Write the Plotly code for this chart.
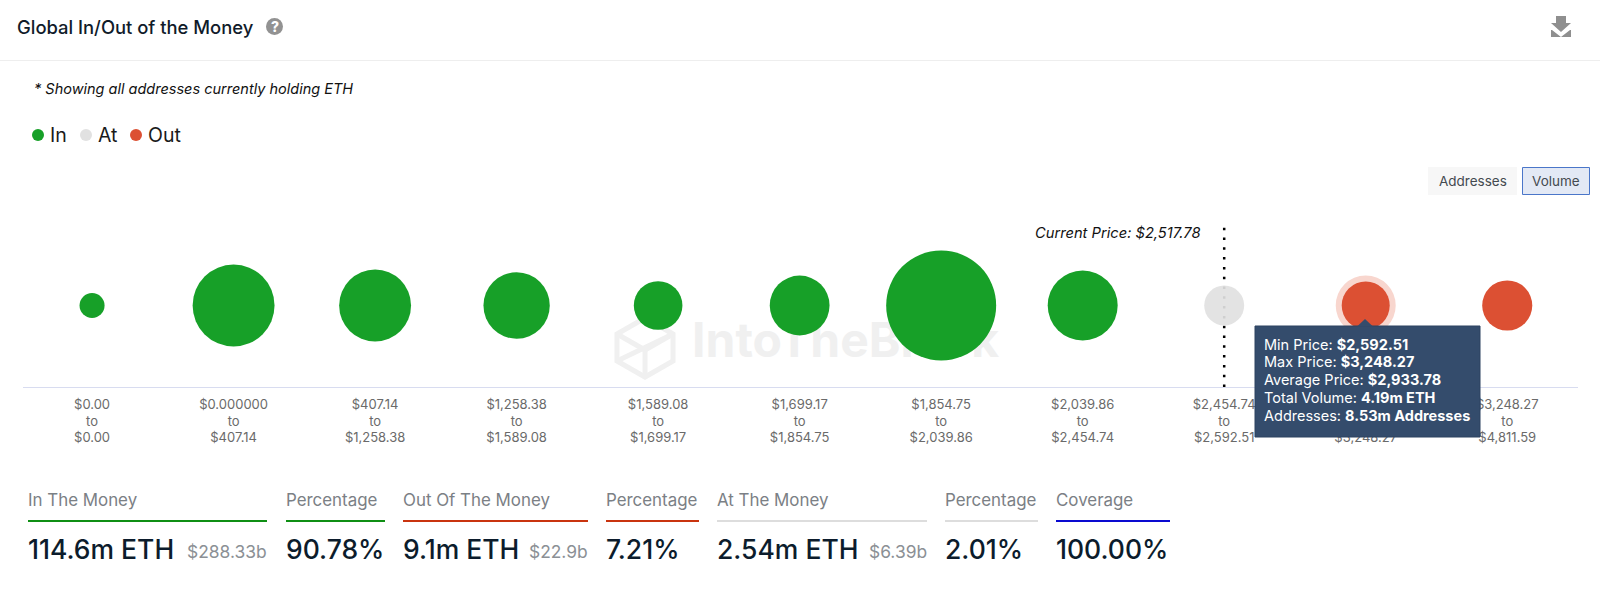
import plotly.graph_objects as go

W, H = 1600, 591
FONT = "Inter"

# ---------- data ----------
range_from = ["$0.00", "$0.000000", "$407.14", "$1,258.38", "$1,589.08", "$1,699.17",
              "$1,854.75", "$2,039.86", "$2,454.74", "$2,592.51", "$3,248.27"]
range_to = ["$0.00", "$407.14", "$1,258.38", "$1,589.08", "$1,699.17", "$1,854.75",
            "$2,039.86", "$2,454.74", "$2,592.51", "$3,248.27", "$4,811.59"]
# volume in million ETH (4.19m is printed in the tooltip)
volume = [1.14, 12.2, 9.4, 8.0, 4.3, 6.5, 22.0, 8.9, 2.9, 4.19, 4.56]
status = ["In"] * 8 + ["At"] + ["Out"] * 2
status_names = ["In", "At", "Out"]
status_colors = ["#17a028", "#e1e1e1", "#dc5033"]
tooltip_labels = ["Min Price", "Max Price", "Average Price", "Total Volume", "Addresses"]
tooltip_values = ["$2,592.51", "$3,248.27", "$2,933.78", "4.19m ETH", "8.53m Addresses"]
stats = [
    ("In The Money", "114.6m ETH", "$288.33b", 28, 267, "#0f8f14"),
    ("Percentage", "90.78%", "", 286, 385, "#0f8f14"),
    ("Out Of The Money", "9.1m ETH", "$22.9b", 403, 588, "#c9340f"),
    ("Percentage", "7.21%", "", 606, 699, "#c9340f"),
    ("At The Money", "2.54m ETH", "$6.39b", 717, 927, "#dddddd"),
    ("Percentage", "2.01%", "", 945, 1038, "#dddddd"),
    ("Coverage", "100.00%", "", 1056, 1170, "#0a0ad0"),
]

px = lambda v: v / W
py = lambda v: 1 - v / H

positions = list(range(len(volume)))
tick_text = [f"{a}<br>to<br>{b}" for a, b in zip(range_from, range_to)]
SIZEREF = 2 * 4.19 / 48 ** 2

fig = go.Figure()

# watermark text sits under the bubbles
fig.add_trace(go.Scatter(
    x=[4.24], y=[-0.49], mode="text", text=["IntoTheBlock"], textposition="middle right",
    textfont=dict(family=FONT, size=48, color="#f0f0f0", weight=700),
    showlegend=False, hoverinfo="skip"))

for name, color in zip(status_names, status_colors):
    idx = [i for i, s in enumerate(status) if s == name]
    fig.add_trace(go.Scatter(
        x=[positions[i] for i in idx], y=[0] * len(idx), mode="markers", name=name,
        showlegend=False,
        marker=dict(size=[volume[i] for i in idx], sizemode="area", sizeref=SIZEREF,
                    color=color, opacity=0.92 if name == "At" else 1, line=dict(width=0)),
    ))

shapes = []
def paper_line(x0, y0, x1, y1, color, width=1, layer="above"):
    shapes.append(dict(type="line", xref="paper", yref="paper", x0=px(x0), x1=px(x1),
                       y0=py(y0), y1=py(y1), line=dict(color=color, width=width), layer=layer))
def paper_rect(x0, y0, x1, y1, fill, line=None, width=0, layer="above"):
    shapes.append(dict(type="rect", xref="paper", yref="paper", x0=px(x0), x1=px(x1),
                       y0=py(y0), y1=py(y1), fillcolor=fill, layer=layer,
                       line=dict(color=line or fill, width=width)))
def paper_path(points, fill="rgba(0,0,0,0)", line="rgba(0,0,0,0)", width=0, closed=True, layer="above"):
    d = "M" + " L".join(f"{px(a):.5f},{py(b):.5f}" for a, b in points) + (" Z" if closed else "")
    shapes.append(dict(type="path", xref="paper", yref="paper", path=d, fillcolor=fill,
                       line=dict(color=line, width=width), layer=layer))
def paper_dot(cx, cy, r, fill):
    shapes.append(dict(type="circle", xref="paper", yref="paper", x0=px(cx - r), x1=px(cx + r),
                       y0=py(cy + r), y1=py(cy - r), fillcolor=fill, line=dict(width=0)))

# header divider
paper_line(0, 60.5, W, 60.5, "#eeeeee", 1)

# help icon
paper_dot(274.5, 26.5, 8.5, "#929292")

# download icon
paper_path([(1556, 16), (1566, 16), (1566, 23), (1571, 23), (1561, 32), (1551, 23), (1556, 23)], fill="#8f8f8f")
paper_path([(1552, 30), (1561, 37), (1570, 30), (1571, 30), (1571, 37), (1551, 37), (1551, 30)], fill="#8f8f8f")

# buttons
paper_rect(1428, 167, 1517, 195, "#f7f7f7")
paper_rect(1522.5, 167.5, 1589.5, 194.5, "#e3e9f5", "#4a76c9", 1)

# watermark logo, below the bubbles
LOGO = "#f0f0f0"
paper_path([(645, 318), (673, 334), (673, 361), (645, 377), (617, 361), (617, 334)],
           line=LOGO, width=5, layer="below")
paper_path([(617, 334), (645, 350), (673, 334)], line=LOGO, width=5, closed=False, layer="below")
paper_path([(645, 350), (645, 377)], line=LOGO, width=5, closed=False, layer="below")
paper_path([(617, 361), (673, 334)], line=LOGO, width=5, closed=False, layer="below")

# current price line, under the bubbles
shapes.append(dict(type="line", xref="x", yref="y", x0=8, x1=8, y0=-1, y1=1, layer="below",
                   line=dict(color="#000000", width=2.5, dash="2.5px,7.3px")))

# hover halo around the 10th bubble
shapes.append(dict(type="circle", xref="x", yref="y", xsizemode="pixel", ysizemode="pixel",
                   xanchor=9, yanchor=0, x0=-30, x1=30, y0=-30, y1=30, layer="below",
                   fillcolor="#f8d6ce", line=dict(width=0)))

# tooltip
paper_rect(1255, 326, 1480, 437, "#344c6c", "#2c4361", 1)
paper_path([(1357, 326.5), (1365, 319), (1373, 326.5)], fill="#344c6c")

# stat underlines
for _, _, _, x0, x1, c in stats:
    paper_line(x0, 521, x1, 521, c, 2)

ann = []
def text(x, y, s, size, color, xanchor="left", **font):
    ann.append(dict(x=px(x), y=py(y), xref="paper", yref="paper", text=s, showarrow=False,
                    xanchor=xanchor, yanchor="middle", align=xanchor if xanchor != "center" else "center",
                    borderpad=0, borderwidth=0,
                    font=dict(family=FONT, size=size, color=color, **font)))

text(17, 26.5, "Global In/Out of the Money", 18.4, "#101b2a", weight=500)
text(274.5, 26.5, "?", 14, "#ffffff", "center", weight=800)
text(34, 89, "* Showing all addresses currently holding ETH", 14.5, "#111111", style="italic")
text(1472.5, 181, "Addresses", 13.5, "#444a50", "center")
text(1556, 181, "Volume", 13.5, "#444a50", "center")
text(1200, 233, "Current Price: $2,517.78", 14.7, "#111111", "right", style="italic")

# legend row
legend_dots = [38, 86, 136]
legend_text = [50, 98, 148]
for name, color, dx, tx in zip(status_names, status_colors, legend_dots, legend_text):
    paper_dot(dx, 135, 6, color)
    text(tx, 135, name, 19.5, "#1a1a1a")

for row, (a, b) in enumerate(zip(tooltip_labels, tooltip_values)):
    text(1264, 344 + row * 17.75, f"{a}: <b>{b}</b>", 14.5, "#ffffff")

for label, value, sub, x0, x1, c in stats:
    text(x0, 500, label, 16.9, "#7b8085")
    text(x0, 549, value, 26.5, "#0c1c2c", weight=500)
    if sub:
        text(x1, 551, sub, 17.4, "#8b9095", "right")

fig.update_layout(
    width=W, height=H, autosize=False,
    margin=dict(l=0, r=0, t=0, b=0),
    paper_bgcolor="#ffffff", plot_bgcolor="rgba(0,0,0,0)",
    font=dict(family=FONT),
    hovermode=False, showlegend=False,
    shapes=shapes, annotations=ann,
    xaxis=dict(domain=[px(23), px(1578)], range=[-0.488, 10.5], tickmode="array",
               tickvals=positions, ticktext=tick_text, showgrid=False, zeroline=False,
               showline=True, linecolor="#d8dcf0", linewidth=1, ticks="outside", ticklen=5,
               tickcolor="rgba(0,0,0,0)", tickangle=0,
               tickfont=dict(family=FONT, size=13, color="#6a6a6a"), anchor="y"),
    yaxis=dict(domain=[py(387), py(224)], range=[-1, 1], visible=False),
)

fig.write_html("out.html", config=dict(displayModeBar=False),
               post_script="document.body.style.margin='0';document.documentElement.style.overflow='hidden';")
